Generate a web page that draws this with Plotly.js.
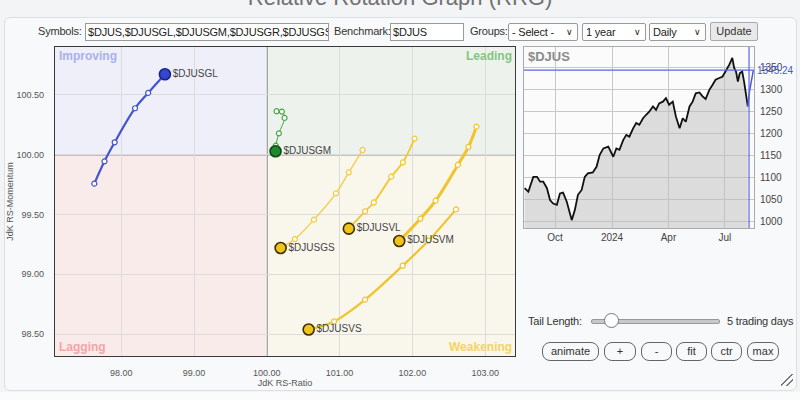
<!DOCTYPE html>
<html>
<head>
<meta charset="utf-8">
<script src="https://cdn.plot.ly/plotly-3.0.1.min.js"></script>
<style>
  html, body { margin:0; padding:0; width:800px; height:400px; overflow:hidden; background:#f3f4f6; font-family:"Liberation Sans", Arial, sans-serif; }
  #title { position:absolute; top:-15px; left:0; width:800px; text-align:center; font-size:22px; color:#707070; white-space:nowrap; }
  #panel { position:absolute; left:4px; top:17px; width:791px; height:372px; background:#f8f9fa; border:1px solid #dcdfe3; border-radius:6px; }
  #below { position:absolute; left:0; top:392px; width:800px; height:8px; background:#fbfbfc; }
  #chart { position:absolute; left:0; top:0; width:800px; height:400px; }
  .lbl { position:absolute; font-size:11px; letter-spacing:-0.2px; color:#333; top:25px; white-space:nowrap; }
  .inp { position:absolute; top:23px; height:16px; border:1px solid #9a9a9a; background:#fff; font-size:11px; letter-spacing:-0.2px; color:#222; line-height:16px; padding:0 2px; overflow:hidden; white-space:nowrap; box-sizing:content-box; }
  .sel { position:absolute; top:23px; height:16px; border:1px solid #9a9a9a; background:#fff; font-size:11px; letter-spacing:-0.2px; color:#222; line-height:16px; padding:0 3px; border-radius:2px; white-space:nowrap; }
  .sel span.ar { position:absolute; right:4px; top:0; font-size:9px; }
  .btn { position:absolute; top:22px; height:17px; border:1px solid #aaa; background:#e9e9e9; font-size:11px; color:#333; line-height:17px; text-align:center; border-radius:2px; }
  .pill { position:absolute; top:342px; height:17px; border:1px solid #666; border-radius:8px; background:#f8f9fa; font-size:11px; color:#333; line-height:17px; text-align:center; white-space:nowrap; }
  #tl { position:absolute; left:528px; top:315px; font-size:11px; letter-spacing:-0.2px; color:#333; white-space:nowrap; }
  #track { position:absolute; left:591px; top:319px; width:127px; height:3px; background:#c8c8c8; border:1px solid #999; border-radius:2px; }
  #thumb { position:absolute; left:604px; top:313px; width:13px; height:13px; border-radius:50%; background:#fff; border:1px solid #777; }
  #days { position:absolute; left:727px; top:315px; font-size:11px; letter-spacing:-0.2px; color:#333; white-space:nowrap; }
  #grip { position:absolute; left:781px; top:374px; width:12px; height:12px;
    background:linear-gradient(135deg, transparent 45%, #777 45%, #777 53%, transparent 53%, transparent 68%, #777 68%, #777 76%, transparent 76%); }
</style>
</head>
<body>
<div id="title">Relative Rotation Graph (RRG)</div>
<div id="panel"></div>
<div id="below"></div>

<div class="lbl" style="left:38px;">Symbols:</div>
<div class="inp" style="left:85px;width:238px;">$DJUS,$DJUSGL,$DJUSGM,$DJUSGR,$DJUSGS</div>
<div class="lbl" style="left:334px;">Benchmark:</div>
<div class="inp" style="left:390px;width:68px;">$DJUS</div>
<div class="lbl" style="left:470px;">Groups:</div>
<div class="sel" style="left:508px;width:62px;">- Select -<span class="ar">&#8744;</span></div>
<div class="sel" style="left:582px;width:56px;">1 year<span class="ar">&#8744;</span></div>
<div class="sel" style="left:649px;width:49px;">Daily<span class="ar">&#8744;</span></div>
<div class="btn" style="left:710px;width:46px;">Update</div>

<div id="chart"></div>

<div id="tl">Tail Length:</div>
<div id="track"></div>
<div id="thumb"></div>
<div id="days">5 trading days</div>
<div class="pill" style="left:542px;width:55px;">animate</div>
<div class="pill" style="left:604px;width:30px;">+</div>
<div class="pill" style="left:641px;width:29px;">-</div>
<div class="pill" style="left:676px;width:29px;">fit</div>
<div class="pill" style="left:711px;width:29px;">ctr</div>
<div class="pill" style="left:747px;width:30px;">max</div>
<div id="grip"></div>

<script>
// ---------------- RRG data (tail first, head last) ----------------
const symbols = ["$DJUSGL", "$DJUSGM", "$DJUSGS", "$DJUSVL", "$DJUSVM", "$DJUSVS"];
const glRatio = [97.63, 97.77, 97.91, 98.19, 98.37, 98.60];
const glMom   = [99.757, 99.944, 100.103, 100.388, 100.516, 100.672];
const gmRatio = [100.134, 100.207, 100.244, 100.166, 100.124, 100.12];
const gmMom   = [100.363, 100.36, 100.307, 100.178, 100.075, 100.028];
const gsRatio = [101.315, 101.127, 100.95, 100.648, 100.386, 100.19];
const gsMom   = [100.039, 99.852, 99.676, 99.456, 99.294, 99.219];
const vlRatio = [102.03, 101.87, 101.71, 101.47, 101.35, 101.127];
const vlMom   = [100.134, 99.936, 99.816, 99.60, 99.526, 99.381];
const vmRatio = [102.88, 102.77, 102.625, 102.32, 102.11, 101.82];
const vmMom   = [100.234, 100.064, 99.914, 99.615, 99.464, 99.278];
const vsRatio = [102.60, 102.22, 101.866, 101.35, 100.924, 100.575];
const vsMom   = [99.542, 99.28, 99.071, 98.787, 98.605, 98.538];

const xTicks = [98, 99, 100, 101, 102, 103];
const yTicks = [98.5, 99, 99.5, 100, 100.5];
const quadrantNames = ["Improving", "Leading", "Lagging", "Weakening"];

// ---------------- Benchmark price data ($DJUS) ----------------
const priceDates = ["2023-08-13","2023-08-19","2023-08-27","2023-09-02","2023-09-07","2023-09-12","2023-09-18","2023-09-23","2023-09-28",
 "2023-10-04","2023-10-09","2023-10-14","2023-10-20","2023-10-25","2023-10-28","2023-11-02","2023-11-07","2023-11-13","2023-11-18",
 "2023-11-23","2023-12-01","2023-12-07","2023-12-12","2023-12-18","2023-12-26","2024-01-03","2024-01-08","2024-01-13","2024-01-19",
 "2024-01-24","2024-01-29","2024-02-04","2024-02-09","2024-02-14","2024-02-20","2024-02-25","2024-03-01","2024-03-07","2024-03-12",
 "2024-03-17","2024-03-23","2024-03-28","2024-04-02","2024-04-08","2024-04-13","2024-04-19","2024-04-24","2024-04-29","2024-05-05",
 "2024-05-10","2024-05-15","2024-05-21","2024-05-26","2024-05-31","2024-06-06","2024-06-11","2024-06-16","2024-06-22","2024-06-27",
 "2024-07-02","2024-07-08","2024-07-13","2024-07-16","2024-07-19","2024-07-22","2024-07-25","2024-07-29","2024-08-01","2024-08-04","2024-08-07"];
const priceValues = [1075,1067,1101,1101,1090,1090,1075,1048,1040,
 1037,1063,1065,1044,1014,1002,1025,1060,1071,1101,
 1109,1111,1124,1151,1166,1170,1147,1166,1163,1185,
 1197,1193,1212,1224,1220,1235,1243,1250,1262,1254,
 1269,1273,1281,1266,1273,1239,1212,1235,1227,1262,
 1273,1292,1294,1285,1279,1300,1311,1323,1327,1330,
 1342,1357,1373,1350,1342,1319,1338,1342,1319,1292,1262];
const lastDates = ["2024-08-07", "2024-08-09", "2024-08-16"];
const lastValues = [1262, 1290, 1345.24];
const lastPrice = 1345.24;
const markerDate = "2024-08-09";
const priceTickVals = ["2023-10-01", "2024-01-01", "2024-04-01", "2024-07-01"];
const priceTickText = ["Oct", "2024", "Apr", "Jul"];
const priceYTicks = [1000, 1050, 1100, 1150, 1200, 1250, 1300, 1350];

// ---------------- build traces ----------------
const X0 = 97.09, X1 = 103.41, Y0 = 98.316, Y1 = 100.90;
const series = [
  {name: symbols[0], x: glRatio, y: glMom, line: "#4453cf", width: 2.2, head: "#3446d4", edge: "#1b2585"},
  {name: symbols[1], x: gmRatio, y: gmMom, line: "#44a844", width: 1, head: "#1f8a2c", edge: "#0d4a14"},
  {name: symbols[2], x: gsRatio, y: gsMom, line: "#f1cc3a", width: 1.2, head: "#f0c419", edge: "#3b3000"},
  {name: symbols[3], x: vlRatio, y: vlMom, line: "#f1c832", width: 1.8, head: "#f0c419", edge: "#3b3000"},
  {name: symbols[4], x: vmRatio, y: vmMom, line: "#f0c42a", width: 3, head: "#f0c419", edge: "#3b3000"},
  {name: symbols[5], x: vsRatio, y: vsMom, line: "#f0c42a", width: 2.2, head: "#f0c419", edge: "#3b3000"}
];
const traces = [];
series.forEach(s => {
  traces.push({
    type: "scatter", mode: "lines+markers", x: s.x, y: s.y,
    xaxis: "x", yaxis: "y", hoverinfo: "skip", showlegend: false,
    line: {color: s.line, width: s.width, shape: "spline", smoothing: 1},
    marker: {size: 5, color: "#ffffff", line: {color: s.line, width: 1.2}, symbol: "circle"}
  });
});
series.forEach(s => {
  const n = s.x.length;
  traces.push({
    type: "scatter", mode: "markers+text", x: [s.x[n - 1]], y: [s.y[n - 1]], text: [s.name],
    textposition: "middle right", textfont: {family: "Liberation Sans, Arial", size: 10, color: "#444"},
    xaxis: "x", yaxis: "y", hoverinfo: "skip", showlegend: false, cliponaxis: false,
    marker: {size: 11, color: s.head, line: {color: s.edge, width: 1.6}}
  });
});
// price chart
traces.push({
  type: "scatter", mode: "lines", x: priceDates, y: priceValues, xaxis: "x2", yaxis: "y2",
  line: {color: "#111", width: 1.8}, fill: "tozeroy", fillcolor: "rgba(190,190,190,0.5)",
  hoverinfo: "skip", showlegend: false
});
traces.push({
  type: "scatter", mode: "lines", x: lastDates, y: lastValues, xaxis: "x2", yaxis: "y2",
  line: {color: "#4a56e0", width: 1.5}, hoverinfo: "skip", showlegend: false
});

const qFill = ["#eeeff9", "#edf3ec", "#f9ebea", "#f9f6ec"];
const qCol = ["#a9b1ee", "#86c486", "#f2a6a6", "#f5d462"];
const shapes = [
  {type: "rect", xref: "x", yref: "y", x0: X0, x1: 100, y0: 100, y1: Y1, fillcolor: qFill[0], line: {width: 0}, layer: "below"},
  {type: "rect", xref: "x", yref: "y", x0: 100, x1: X1, y0: 100, y1: Y1, fillcolor: qFill[1], line: {width: 0}, layer: "below"},
  {type: "rect", xref: "x", yref: "y", x0: X0, x1: 100, y0: Y0, y1: 100, fillcolor: qFill[2], line: {width: 0}, layer: "below"},
  {type: "rect", xref: "x", yref: "y", x0: 100, x1: X1, y0: Y0, y1: 100, fillcolor: qFill[3], line: {width: 0}, layer: "below"},
  {type: "line", xref: "x", yref: "y", x0: 100, x1: 100, y0: Y0, y1: Y1, line: {color: "#333", width: 1.2}, layer: "below"},
  {type: "line", xref: "x", yref: "y", x0: X0, x1: X1, y0: 100, y1: 100, line: {color: "#333", width: 1.2}, layer: "below"},
  {type: "line", xref: "x2", yref: "y2 domain", x0: markerDate, x1: markerDate, y0: 0, y1: 1, line: {color: "#5a66e6", width: 1.2}},
  {type: "line", xref: "x2 domain", yref: "y2", x0: 0, x1: 1, y0: lastPrice, y1: lastPrice, line: {color: "#5a66e6", width: 1.2}}
];

const qf = {family: "Liberation Sans, Arial", size: 12, color: "#000"};
const annotations = [
  {xref: "x domain", yref: "y domain", x: 0.005, y: 1.0, xanchor: "left", yanchor: "top", text: "<b>" + quadrantNames[0] + "</b>", showarrow: false, font: Object.assign({}, qf, {color: qCol[0]})},
  {xref: "x domain", yref: "y domain", x: 0.997, y: 1.0, xanchor: "right", yanchor: "top", text: "<b>" + quadrantNames[1] + "</b>", showarrow: false, font: Object.assign({}, qf, {color: qCol[1]})},
  {xref: "x domain", yref: "y domain", x: 0.005, y: 0.0, xanchor: "left", yanchor: "bottom", text: "<b>" + quadrantNames[2] + "</b>", showarrow: false, font: Object.assign({}, qf, {color: qCol[2]})},
  {xref: "x domain", yref: "y domain", x: 0.997, y: 0.0, xanchor: "right", yanchor: "bottom", text: "<b>" + quadrantNames[3] + "</b>", showarrow: false, font: Object.assign({}, qf, {color: qCol[3]})},
  {xref: "x2 domain", yref: "y2 domain", x: 0.01, y: 1.0, xanchor: "left", yanchor: "top", text: "<b>$DJUS</b>", showarrow: false, font: {family: "Liberation Sans, Arial", size: 13, color: "#8a8a8a"}},
  {xref: "x2 domain", yref: "y2", x: 1.0, y: lastPrice, xanchor: "left", yanchor: "middle", xshift: 1, text: String(lastPrice.toFixed(2)), showarrow: false, font: {family: "Liberation Sans, Arial", size: 10, color: "#4a56e0"}}
];

const tickFont = {family: "Liberation Sans, Arial", size: 9, color: "#555"};
const layout = {
  width: 800, height: 400, margin: {l: 0, r: 0, t: 0, b: 0},
  paper_bgcolor: "rgba(0,0,0,0)", plot_bgcolor: "#fbfbfb",
  showlegend: false,
  xaxis: {domain: [0.06875, 0.64375], range: [X0, X1], tickvals: xTicks, tickformat: ".2f",
    showgrid: true, gridcolor: "#dcdcdc", zeroline: false, showline: true, mirror: true, linecolor: "#3a3a3a", linewidth: 1.2,
    ticks: "", tickfont: tickFont, ticklabelstandoff: 8, anchor: "y",
    title: {text: "JdK RS-Ratio", font: {family: "Liberation Sans, Arial", size: 9, color: "#555"}, standoff: 2}},
  yaxis: {domain: [0.11, 0.8825], range: [Y0, Y1], tickvals: yTicks, tickformat: ".2f",
    showgrid: true, gridcolor: "#dcdcdc", zeroline: false, showline: true, mirror: true, linecolor: "#3a3a3a", linewidth: 1.2,
    ticks: "", tickfont: tickFont, ticklabelstandoff: 8, anchor: "x",
    title: {text: "JdK RS-Momentum", font: {family: "Liberation Sans, Arial", size: 9, color: "#555"}, standoff: 1}},
  xaxis2: {domain: [0.655, 0.9425], range: ["2023-08-12", "2024-08-17"], type: "date", anchor: "y2",
    tickvals: priceTickVals, ticktext: priceTickText, showgrid: true, gridcolor: "#c8c8c8",
    showline: true, mirror: true, linecolor: "#aaa", ticks: "", tickfont: {family: "Liberation Sans, Arial", size: 10, color: "#444"}, ticklabelstandoff: 0},
  yaxis2: {domain: [0.43, 0.8825], range: [984, 1398], anchor: "x2", side: "right", tickvals: priceYTicks,
    showgrid: true, gridcolor: "#c8c8c8", zeroline: false, showline: true, mirror: true, linecolor: "#aaa",
    ticks: "", tickfont: {family: "Liberation Sans, Arial", size: 10, color: "#444"}, ticklabelstandoff: 3},
  shapes: shapes,
  annotations: annotations
};

Plotly.newPlot("chart", traces, layout, {staticPlot: true, displayModeBar: false});
</script>
</body>
</html>
